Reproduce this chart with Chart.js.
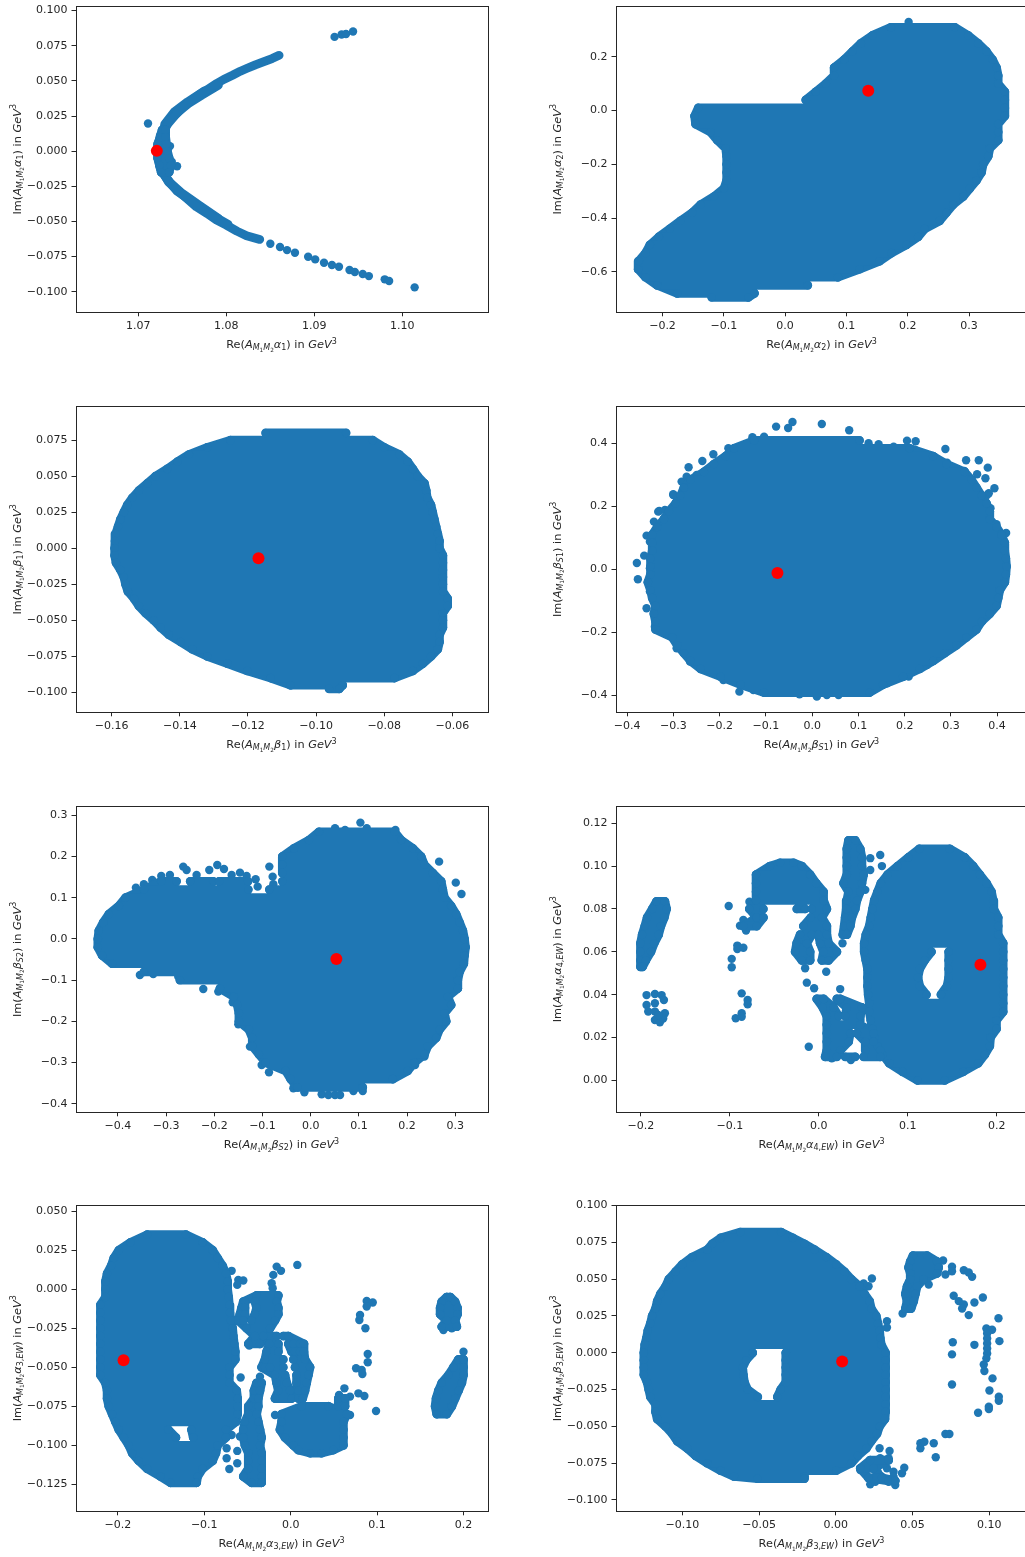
<!DOCTYPE html>
<html>
<head>
<meta charset="utf-8">
<style>
html,body{margin:0;padding:0;background:#fff;width:1025px;height:1557px;overflow:hidden}
#wrap{position:relative;width:1025px;height:1557px;overflow:hidden}
canvas{position:absolute;display:block}
</style>
<script src="https://cdn.jsdelivr.net/npm/chart.js@4/dist/chart.umd.min.js"></script>
</head>
<body>
<div id="wrap"></div>
<script>
// Values. spans: [y, x0, x1, x2, x3 ...] = runs of overlapping points at one Im value
const p1Curve=[[1.0860,.0682],[1.0852,.0659],[1.0842,.0635],[1.0833,.0614],[1.0823,.0588],[1.0816,.0569],[1.0807,.054],[1.0797,.051],[1.0789,.0481],[1.078,.0445],[1.077,.0405],[1.0761,.0363],[1.0751,.0315],[1.0742,.0256],[1.0734,.0197],[1.0728,.0137],[1.0723,.006],[1.0722,0],[1.0723,-.006],[1.0727,-.0135],[1.0734,-.0218],[1.0744,-.0277],[1.0755,-.0336],[1.0766,-.0396],[1.0778,-.0443],[1.0789,-.0491],[1.08,-.0526],[1.0812,-.0569],[1.0823,-.0602],[1.0838,-.0628]];
const p1Outer=[[1.0791,.0469],[1.0772,.0398],[1.0757,.0339],[1.0743,.0268],[1.0732,.0201],[1.0725,.0114],[1.0721,0],[1.0725,-.0123],[1.0736,-.0223],[1.075,-.0301],[1.0769,-.0384],[1.0791,-.0479]];
const p1InnerUp=[[1.0775,.0429],[1.0756,.0351],[1.0741,.028],[1.073,.0192],[1.0728,.0083]];
const p1InnerLow=[[1.0728,-.0159],[1.0732,-.0194],[1.0744,-.0284],[1.0763,-.0367],[1.0782,-.045],[1.0802,-.0521]];
const p1Spans=[[.015,1.0727,1.0731],[.01,1.0725,1.0731],[.005,1.0722,1.0732],[0,1.0722,1.0733],[-.005,1.0722,1.0735],[-.01,1.0724,1.0737],[-.015,1.0726,1.0735]];
const p1Dots=[[1.0711,.0197],[1.0923,.0813],[1.0931,.083],[1.0936,.0834],[1.0944,.0851],[1.0736,.0036],[1.0738,-.0076],[1.0744,-.0107],[1.085,-.0659],[1.0861,-.0682],[1.0869,-.0704],[1.0878,-.0723],[1.0893,-.0751],[1.0901,-.077],[1.0911,-.0794],[1.092,-.081],[1.0928,-.0822],[1.094,-.0846],[1.0946,-.086],[1.0955,-.0874],[1.0962,-.0889],[1.098,-.0912],[1.0985,-.0924],[1.1014,-.0969]];
const p1Red=[1.0721,.0002];
const p1XTicks=[1.07,1.08,1.09,1.10], p1YTicks=[-.1,-.075,-.05,-.025,0,.025,.05,.075,.1];

const p2Spans=[[.31,.1727,.2767],[.28,.1427,.2985],[.25,.1236,.3148],[.22,.11,.3284],[.19,.0964,.3382],[.16,.08,.3448],[.13,.08,.3475],[.10,.0664,.3475],[.07,.05,.3584],[.04,.0338,.3584],[.01,-.1416,.3584],[-.02,-.1476,.3584],[-.05,-.146,.3475],[-.08,-.1215,.3475],[-.11,-.1106,.3475],[-.14,-.097,.3339],[-.17,-.0953,.3312],[-.20,-.0953,.323],[-.23,-.0953,.3203],[-.26,-.0953,.3121],[-.29,-.0997,.3012],[-.32,-.116,.2903],[-.35,-.1378,.274],[-.38,-.1514,.263],[-.41,-.1705,.2522],[-.44,-.188,.2277],[-.47,-.2059,.2168],[-.50,-.2206,.1977],[-.53,-.2277,.1732],[-.56,-.2386,.1541],[-.59,-.2397,.1215],[-.62,-.2277,.0861],[-.65,-.2086,.037],[-.68,-.1759,-.0501],[-.695,-.1198,-.06]];
const p2Dots=[[.2015,.33]];
const p2Red=[.1356,.0744];
const p2XTicks=[-.2,-.1,0,.1,.2,.3], p2YTicks=[-.6,-.4,-.2,0,.2];

const p3Spans=[[.08,-.1148,-.0912],[.075,-.1251,-.0834],[.07,-.1319,-.08],[.065,-.1373,-.0756],[.06,-.1407,-.0731],[.055,-.1437,-.0716],[.05,-.1471,-.0702],[.045,-.1495,-.0682],[.04,-.152,-.0677],[.035,-.1539,-.0674],[.03,-.1554,-.0663],[.025,-.1564,-.0658],[.02,-.1574,-.0653],[.015,-.1581,-.0648],[.01,-.1588,-.0643],[.005,-.159,-.0638],[0,-.1591,-.0638],[-.005,-.1591,-.0628],[-.01,-.1587,-.0628],[-.015,-.1574,-.0628],[-.02,-.1564,-.0628],[-.025,-.1559,-.0628],[-.03,-.1552,-.0628],[-.035,-.1534,-.0614],[-.04,-.152,-.0614],[-.045,-.15,-.0628],[-.05,-.1476,-.0628],[-.055,-.1456,-.0628],[-.06,-.1432,-.0638],[-.065,-.1397,-.0638],[-.07,-.1363,-.0643],[-.075,-.1319,-.0663],[-.08,-.126,-.0687],[-.085,-.1202,-.0716],[-.09,-.1133,-.077],[-.095,-.1075,-.0922],[-.0975,-.0962,-.0932]];
const p3Dots=[];
const p3Red=[-.1169,-.0069];
const p3XTicks=[-.16,-.14,-.12,-.10,-.08,-.06], p3YTicks=[-.1,-.075,-.05,-.025,0,.025,.05,.075];

const p4Spans=[[.41,-.1256,.1025],[.385,-.169,.2108],[.36,-.187,.2614],[.335,-.2123,.2903],[.31,-.2339,.33],[.285,-.2628,.3444],[.26,-.2773,.3552],[.235,-.2845,.3661],[.21,-.2953,.3769],[.185,-.3097,.3841],[.16,-.3206,.3841],[.135,-.335,.3986],[.11,-.3458,.4094],[.085,-.3458,.4166],[.06,-.3458,.4166],[.035,-.3495,.4188],[.01,-.3495,.4202],[-.015,-.3495,.4188],[-.04,-.3552,.4166],[-.065,-.3495,.4058],[-.09,-.3458,.4022],[-.115,-.3386,.3986],[-.14,-.3422,.3841],[-.165,-.3386,.3661],[-.19,-.3386,.3552],[-.215,-.3025,.3336],[-.24,-.2917,.3119],[-.265,-.2773,.2866],[-.29,-.2628,.2614],[-.315,-.2412,.2325],[-.34,-.1978,.1964],[-.365,-.1545,.1531],[-.39,-.104,.1242]];
const p4Dots=[[-.078,.454],[-.0426,.4688],[-.052,.4497],[.0209,.4624],[.0801,.4423],[.2051,.4095],[.2238,.4074],[.2881,.3831],[.3329,.3471],[.3603,.3471],[.3798,.3238],[.3083,.3185],[.3292,.3132],[.3567,.3026],[.2917,.3397],[.3747,.29],[.3942,.2582],[.382,.2423],[.265,.3577],[.2412,.3619],[.3986,.1439],[.4195,.1164],[-.2137,.3661],[-.2375,.345],[-.2672,.3249],[-.1812,.3852],[-.3004,.2392],[-.3307,.1862],[-.3422,.1524],[-.3581,.1079],[-.3791,.0212],[-.3769,-.0307],[-.3632,.0444],[-.3581,-.1228],[-.3401,-.181],[-.1574,-.3873],
[-.3329,.1841],[-.3184,.1894],[-.3004,.237],[-.2823,.2794],[-.2715,.2952],[-.2498,.3005],[-.3473,.1101],[-.3509,.0889],[-.3401,.0466],[-.3509,.0042],[-.3437,-.0328],[-.3509,-.0698],[-.3401,-.1016],[-.3401,-.1439],[-.3365,-.1862],[-.304,-.2074],[-.2931,-.2497],[-.2643,-.2921],
[-.1292,.4201],[-.104,.4222],[.122,.401],[.1437,.3979],[.1762,.3905],[.2231,.3799],[.3783,.237],[.3856,.1947],
[-.1921,-.3503],[-.1271,-.382],[-.104,-.382],[-.0693,-.3873],[-.0513,-.3873],[-.0274,-.3958],[.0101,-.4032],[.0318,-.3979],[.057,-.3979],[.0895,-.3873],[.122,-.382],[.1617,-.3608],[.2087,-.3397],[.2484,-.3026],[.3097,-.2286],[.3495,-.1968],[.3675,-.1651],[.3856,-.1333]];
const p4Red=[-.0751,-.0106];
const p4XTicks=[-.4,-.3,-.2,-.1,0,.1,.2,.3,.4], p4YTicks=[-.4,-.2,0,.2,.4];

const p5Spans=[[.26,.0173,.1737],[.24,-.0035,.1875],[.22,-.0346,.2118],[.20,-.0588,.2291],[.18,-.0588,.236],[.16,-.0588,.2533],[.14,-.31,-.2782,-.25,-.2021,-.19,-.13,-.0588,.2706],[.12,-.3457,-.1294,-.0858,.274],[.10,-.3841,.2775],[.08,-.3979,.2913],[.06,-.4187,.3017],[.04,-.4304,.3087],[.02,-.4394,.3156],[0,-.4415,.319],[-.02,-.4415,.3211],[-.04,-.4325,.319],[-.06,-.4118,.3176],[-.08,-.346,.3087],[-.10,-.2713,.3052],[-.12,-.1882,.3052],[-.14,-.1592,.2844],[-.16,-.1522,.2913],[-.18,-.1488,.2775],[-.20,-.1488,.281],[-.22,-.128,.2671],[-.24,-.1211,.2602],[-.26,-.1211,.2429],[-.28,-.1073,.236],[-.30,-.0934,.2152],[-.32,-.0519,.2014],[-.34,-.0415,.1702],[-.36,-.0277,.108]];
const p5Dots=[[.0505,.2686],[.0713,.2646],[.1031,.2824],[.1163,.2686],[.1758,.2646],[.1474,.2589],[.2664,.1877],[.301,.1367],[.3128,.1092],[-.31,.1529],[-.292,.1553],[-.3287,.1432],[-.346,.1327],[-.3626,.1246],[-.2644,.1756],[-.2574,.1675],[-.2367,.1553],[-.2104,.1675],[-.1938,.1796],[-.1799,.1699],[-.164,.1553],[-.1467,.161],[-.1329,.1529],[-.1142,.1448],[-.0858,.1756],[-.0789,.1513],[-.0775,.1327],[-.11,.127],[-.036,-.3625],[-.0131,-.3722],[.0228,-.377],[.0367,-.3786],[.0505,-.3786],[.0609,-.3786],[.0886,-.3689],[.108,-.3689],[-.0865,-.3236],[-.1017,-.3058],[-.083,-.3042],[-.126,-.2613],[-.1294,-.2168],[-.1502,-.2071],[-.1619,-.1537],[-.1917,-.1278],[-.2228,-.1214],[-.2595,-.0947],[-.2747,-.0914],[-.3059,-.0769],[-.3266,-.085],[-.3543,-.0874],[.236,-.2856],[.2166,-.3058]];
const p5Red=[.0533,-.0485];
const p5XTicks=[-.4,-.3,-.2,-.1,0,.1,.2,.3], p5YTicks=[-.4,-.3,-.2,-.1,0,.1,.2,.3];

const p6Spans=[[.108,.1129,.1471],[.104,.1006,.164],[.10,.0886,.1734],[.096,.0773,.1809],[.092,.0698,.1884],[.088,.066,.194],[.084,.0623,.1959],[.08,.0604,.1966],[.076,.0585,.2015],[.072,.0567,.2015],[.068,.0529,.2015],[.064,.051,.2071],[.06,.051,.1265,.146,.2071],[.056,.0529,.119,.146,.2071],[.052,.0548,.1133,.146,.2071],[.048,.0548,.1114,.146,.2071],[.044,.0548,.1133,.1441,.2071],[.04,.0555,.1208,.1373,.2071],[.036,.0567,.2071],[.032,.0567,.2071],[.028,.0585,.1996],[.024,.0604,.1996],[.02,.0623,.1929],[.016,.066,.1921],[.012,.0717,.1865],[.008,.0792,.179],[.004,.0942,.1621],[0,.1111,.1415],
[.0835,-.1824,-.173],[.08,-.1872,-.1711],[.076,-.1929,-.1737],[.072,-.1955,-.1775],[.068,-.1985,-.1801],[.064,-.2004,-.185],[.06,-.2004,-.1887],[.056,-.2004,-.1944],[.053,-.2004,-.1981],
[.1015,-.0435,-.0285],[.10,-.0548,-.0191],[.096,-.0705,-.0098],[.092,-.0705,-.003],[.088,-.0705,.0053],[.084,-.0705,.0053],[.08,-.078,-.0623,-.0248,-.0154,-.0079,.009],[.076,-.0698,-.0623,-.009,.0034],[.072,-.0848,-.0698,-.0173,.009],[.068,-.021,-.0079,-.0004,.009],[.064,-.0248,-.0135,.0015,.0109],[.06,-.0266,-.0098,.0053,.0203],[.056,-.0191,-.0098,.0034,.0109],
[.112,.0334,.0409],[.108,.0315,.0465],[.104,.0315,.0484],[.10,.0315,.0484],[.096,.0315,.0503],[.092,.0278,.0484],[.088,.0334,.0465],[.084,.0315,.0428],[.08,.0308,.0409],[.076,.0296,.0371],[.072,.0285,.0353],[.068,.027,.0315],
[.038,-.0023,.0053,.0203,.024],[.034,.0045,.0165,.0315,.0484],[.03,.009,.0221,.0296,.0465],[.026,.009,.0465],[.022,.009,.0353,.0428,.0615],[.018,.009,.0334,.0522,.0615],[.014,.009,.024,.0522,.069],[.011,.0071,.0203,.0296,.0409,.0503,.069]];
const p6Dots=[[-.1936,.0398],[-.1842,.0403],[-.1767,.0398],[-.1741,.0375],[-.1936,.0352],[-.1842,.036],[-.1917,.0321],[-.1842,.0321],[-.173,.0313],[-.1842,.0282],[-.1786,.0271],[-.1749,.0289],[-.1805,.0305],[-.1013,.0814],[-.078,.0834],[-.0886,.0722],[-.0848,.0749],[-.0818,.0699],[-.0717,.0733],[-.0916,.0629],[-.0916,.0613],[-.0848,.0619],[-.0979,.0567],[-.0979,.0528],[-.0867,.0406],[-.08,.0375],[-.08,.0355],[-.0867,.0313],[-.0934,.029],[-.0867,.0297],[.0083,.0507],[-.0135,.0456],[-.0053,.043],[-.0154,.0523],[-.0113,.0157],[.0578,.1037],[.069,.1052],[.0709,.1],[.0578,.0982],[.0522,.0889],[.0266,.064],[.024,.0426],[.0146,.0103],[.036,.0095]];
const p6Red=[.1816,.054];
const p6XTicks=[-.2,-.1,0,.1,.2], p6YTicks=[0,.02,.04,.06,.08,.10,.12];

const p7Spans=[[.035,-.166,-.1212],[.03,-.1853,-.1019],[.025,-.1988,-.0903],[.02,-.2046,-.0846],[.015,-.2077,-.0788],[.01,-.2124,-.0749],[.005,-.2143,-.073],[0,-.2143,-.073],[-.005,-.2143,-.0718],[-.01,-.2201,-.071],[-.015,-.2201,-.0703],[-.02,-.2201,-.0691],[-.025,-.2201,-.0672],[-.03,-.2201,-.0664],[-.035,-.2201,-.0653],[-.04,-.2201,-.0641],[-.045,-.2201,-.0641],[-.05,-.2201,-.071],[-.055,-.2201,-.071],[-.06,-.2143,-.071],[-.065,-.2124,-.0625],[-.07,-.2124,-.0614],[-.075,-.2104,-.0614],[-.08,-.2066,-.0614],[-.085,-.2027,-.0633],[-.09,-.1988,-.1417,-.1147,-.0749],[-.095,-.1931,-.1328,-.1127,-.0749],[-.10,-.1873,-.0846],[-.105,-.1834,-.0865],[-.11,-.1757,-.0903],[-.115,-.166,-.1019],[-.12,-.1506,-.1077],[-.124,-.139,-.1089],
[-.045,.1942,.2],[-.05,.1884,.2],[-.055,.1826,.2],[-.06,.1749,.1981],[-.065,.171,.1942],[-.07,.1683,.1903],[-.075,.1672,.1865],[-.08,.1691,.1807],
[-.005,.1807,.1846],[-.008,.1749,.1903],[-.012,.173,.1931],[-.016,.173,.1931],[-.02,.1807,.1903],[-.024,.1749,.1923],
[-.075,.0127,.0436],[-.08,-.0104,.0649],[-.085,-.0104,.061],[-.09,-.0124,.061],[-.095,-.0066,.061],[-.10,.0031,.061],[-.103,.0089,.0494],[-.105,.0224,.0359],[-.07,.0552,.0629],[-.075,.0552,.0629],
[-.03,-.0239,-.0162,-.0085,-.0027],[-.035,-.0247,-.0143,-.0027,.0031,.0108,.0154],[-.04,-.0278,-.0143,.0012,.005,.0108,.0154],[-.045,-.0297,-.0085,.0031,.0166],[-.05,-.0336,-.0297,-.0239,-.0085,.005,.0224],[-.055,-.0181,-.0066,.0069,.0205],[-.06,-.0162,-.0046,.0069,.0185],[-.065,-.0143,-.0008,.0089,.0166],[-.07,-.0181,.0012,.0089,.0139],
[-.004,-.0394,-.0143],[-.008,-.0548,-.0529,-.0413,-.0162],[-.012,-.0568,-.0529,-.0394,-.0143],[-.016,-.0587,-.0529,-.0413,-.0143],[-.02,-.0606,-.0548,-.0452,-.0181],[-.025,-.051,-.0239],[-.03,-.0413,-.0317],[-.035,-.049,-.0355],
[-.06,-.0394,-.0336],[-.065,-.0425,-.0355],[-.07,-.0425,-.0375],[-.075,-.049,-.0375],[-.08,-.049,-.0394],[-.085,-.0529,-.0375],[-.09,-.0548,-.0355],[-.095,-.0548,-.0336],[-.10,-.0529,-.0355],[-.105,-.049,-.0336],[-.11,-.049,-.0336],[-.115,-.049,-.0336],[-.12,-.0548,-.0336],[-.124,-.0452,-.0336]];
const p7Dots=[[.2,-.04],[.1768,-.0261],[.1865,-.025],[.088,-.0075],[.095,-.0085],[.088,-.0111],[.0803,-.0165],[.0795,-.0197],[.0865,-.025],[.0892,-.0415],[.0892,-.0468],[.0757,-.0506],[.0822,-.0517],[.083,-.0543],[.0622,-.0635],[.056,-.0677],[.0687,-.0688],[.0784,-.0667],[.0853,-.0684],[.0988,-.078],[.0077,.0156],[-.0162,.0145],[-.0112,.0118],[-.0201,.0092],[-.022,.0038],[-.0208,.0006],[-.0181,-.0806],[.0687,-.0806],[-.0683,.0118],[-.0606,.006],[-.0548,.0056],[-.0618,.0028],[-.0479,-.0361],[-.0579,-.0566],[-.0355,-.056],[-.0618,-.1036],[-.0618,-.1115],[-.071,-.1152],[-.0741,-.1083],[-.0741,-.1019],[-.0683,-.0934],[-.0587,-.0944]];
const p7Red=[-.1934,-.0455];
const p7XTicks=[-.2,-.1,0,.1,.2], p7YTicks=[-.125,-.1,-.075,-.05,-.025,0,.025,.05];

const p8Spans=[[.082,-.062,-.0357],[.078,-.0751,-.0281],[.074,-.0805,-.0205],[.07,-.0838,-.0139],[.065,-.0936,-.0063],[.06,-.1001,.0002],[.055,-.1045,.0057],[.05,-.1088,.01],[.045,-.111,.0155],[.04,-.1143,.0187],[.035,-.1164,.022],[.03,-.1175,.0231],[.025,-.1197,.0263],[.02,-.1208,.0274],[.015,-.1225,.0285],[.01,-.1234,.0289],[.0055,-.1245,.0296],[0,-.1251,-.0542,-.0326,.0324],[-.005,-.1251,-.0585,-.0326,.0324],[-.01,-.1251,-.0607,-.0326,.0324],[-.015,-.1251,-.0603,-.0326,.0324],[-.02,-.123,-.0596,-.0326,.0324],[-.025,-.1219,-.0575,-.0359,.0324],[-.03,-.1208,-.0509,-.0381,.0324],[-.035,-.1175,.0324],[-.04,-.1175,.0324],[-.045,-.1164,.032],[-.05,-.111,.0285],[-.055,-.1066,.0268],[-.06,-.1034,.0231],[-.065,-.0968,.0198],[-.07,-.0914,.0144],[-.075,-.0838,.01],[-.08,-.0751,.0002],[-.084,-.0664,-.0205],[-.0855,-.0511,-.0205],
[.066,.0503,.0594],[.062,.0485,.0659],[.058,.0474,.067],[.054,.0485,.0659],[.05,.0485,.0572],[.045,.0464,.0529],[.04,.0453,.0518],[.035,.0464,.0507],[.03,.0453,.049],
[-.073,.0224,.0344],[-.0785,.0159,.0246],[-.085,.0213,.03],[-.087,.0344,.0387]];
const p8Dots=[[.0699,.0627],[.0757,.0584],[.0834,.0561],[.0866,.0545],[.0888,.0516],[.0714,.0532],[.0757,.0554],[.0605,.0464],[.0435,.0267],[.0768,.0387],[.0801,.0351],[.0834,.0328],[.0823,.0301],[.0866,.0256],[.0903,.0342],[.0958,.0376],[.106,.0235],[.0762,.0072],[.0757,-.0011],[.0757,-.0215],[.0903,.0054],[.1066,.0079],[.0981,.0165],[.1018,.0156],[.0986,.0131],[.0986,.0097],[.0986,.0063],[.0986,.0029],[.0986,-.0005],[.0981,-.0038],[.0964,-.0079],[.0968,-.0124],[.1021,-.0174],[.1001,-.0256],[.1062,-.0299],[.1062,-.0326],[.0997,-.0367],[.0997,-.0382],[.0927,-.0407],[.0714,-.0552],[.074,-.0552],[.0551,-.0615],[.0577,-.0604],[.0551,-.0649],[.0638,-.0615],[.0651,-.071],[.0235,.0505],[.0213,.0452],[.0181,.0471],[.0333,.0215],[.0333,.0172],[.0285,-.0649],[.035,-.0667],[.0344,-.0717],[.0289,-.0717],[.0224,-.0729],[.0213,-.0762],[.0268,-.0751],[.0333,-.0785],[.0376,-.0808],[.0446,-.0781],[.0431,-.0819],[.0159,-.0796],[.0213,-.0853],[.0224,-.0894],[.0257,-.0876],[.03,-.0842],[.0272,-.0808],[.0344,-.0876],[.0387,-.0898],[.0376,-.0842],[.0192,-.0785],[.0246,-.0785]];
const p8Red=[.0041,-.0059];
const p8XTicks=[-.10,-.05,0,.05,.10], p8YTicks=[-.1,-.075,-.05,-.025,0,.025,.05,.075,.1];

const xRanges=[[1.06286,1.10968],[-.2767,.3954],[-.1706,-.0497],[-.4253,.4657],[-.4879,.3668],[-.2285,.2345],[-.249,.2278],[-.1436,.1249]];
const yRanges=[[-.11465,.10306],[-.7506,.3883],[-.1138,.0985],[-.4529,.5185],[-.4207,.322],[-.0149,.1279],[-.1423,.0538],[-.1077,.1002]];
const xDigits=[2,1,2,1,1,1,1,2], yDigits=[3,1,3,1,1,2,3,3];
// axis-label symbol and its subscript parts: [symbol, [[text, italic], ...]]
const labelSymbols=[['α',[['1',0]]],['α',[['2',0]]],['β',[['1',0]]],['β',[['S',1],['1',0]]],['β',[['S',1],['2',0]]],['α',[['4,',0],['EW',1]]],['α',[['3,',0],['EW',1]]],['β',[['3,',0],['EW',1]]]];

const BLUE='#1f77b4', RED='#ff0000', INK='#262626', FONT='"DejaVu Sans"';
const spanList=[p1Spans,p2Spans,p3Spans,p4Spans,p5Spans,p6Spans,p7Spans,p8Spans];
const dotList=[p1Dots,p2Dots,p3Dots,p4Dots,p5Dots,p6Dots,p7Dots,p8Dots];
const redList=[p1Red,p2Red,p3Red,p4Red,p5Red,p6Red,p7Red,p8Red];
const xTickList=[p1XTicks,p2XTicks,p3XTicks,p4XTicks,p5XTicks,p6XTicks,p7XTicks,p8XTicks];
const yTickList=[p1YTicks,p2YTicks,p3YTicks,p4YTicks,p5YTicks,p6YTicks,p7YTicks,p8YTicks];
const canvasTop=[0,0,400,400,800,800,1199,1199];
const GAP={x:NaN,y:NaN};

function spansToPoints(spans){
  const out=[];
  spans.forEach(r=>{
    for(let i=1;i+1<r.length;i+=2){
      out.push({x:r[i],y:r[0]},{x:r[i+1],y:r[0]},GAP);
    }
  });
  return out;
}
// join the run ends of neighbouring rows, so a blob's rim follows its read-off points
function rimPoints(spans,i){
  const kx=412/(xRanges[i][1]-xRanges[i][0]), ky=306/(yRanges[i][1]-yRanges[i][0]);
  const out=[];
  const link=(xa,ya,xb,yb)=>{ if(Math.abs(xa-xb)*kx<24) out.push({x:xa,y:ya},{x:xb,y:yb},GAP); };
  for(let r=0;r+1<spans.length;r++){
    const a=spans[r],b=spans[r+1];
    if(Math.abs(a[0]-b[0])*ky>12) continue;
    if(a.length===b.length){ for(let k=1;k<a.length;k++) link(a[k],a[0],b[k],b[0]); }
    else { link(a[1],a[0],b[1],b[0]); link(a[a.length-1],a[0],b[b.length-1],b[0]); }
  }
  return out;
}
function pathToPoints(p){return p.map(q=>({x:q[0],y:q[1]}));}
function fmt(v,d){return Math.abs(v).toFixed(d).replace(/^/,v<-1e-9?'\u2212':'');}

function labelRuns(prefix,idx){
  const M=11.3,S=8,T=5.8;
  const [sym,sub]=labelSymbols[idx];
  const runs=[[prefix+'(',M,0,0],['A',M,1,0],['M',S,1,2.2],['1',T,0,3.6],['M',S,1,2.2],['2',T,0,3.6],[sym,M,1,0]];
  sub.forEach(s=>runs.push([s[0],S,s[1],1.9]));
  runs.push([') in ',M,0,0],['GeV',M,1,0],['3',S,0,-4.5]);
  return runs;
}
function drawRuns(ctx,runs,cx,cy,rot){
  ctx.save();
  ctx.translate(cx,cy);
  ctx.rotate(rot);
  ctx.fillStyle=INK;
  ctx.textAlign='left';
  ctx.textBaseline='alphabetic';
  let w=0;
  runs.forEach(r=>{ctx.font=(r[2]?'italic ':'')+r[1]+'px '+FONT;r.w=ctx.measureText(r[0]).width;w+=r.w;});
  let x=-w/2;
  runs.forEach(r=>{ctx.font=(r[2]?'italic ':'')+r[1]+'px '+FONT;ctx.fillText(r[0],x,r[3]);x+=r.w;});
  ctx.restore();
}
const lineStyle={showLine:true,spanGaps:false,borderColor:BLUE,borderWidth:8.8,borderCapStyle:'round',borderJoinStyle:'round',tension:0,pointBorderWidth:0};

const wrap=document.getElementById('wrap');
spanList.forEach((spans,i)=>{
  const cv=document.createElement('canvas');
  const W=500,H=380;
  cv.width=W;cv.height=H;
  cv.style.width=W+'px';cv.style.height=H+'px';
  cv.style.left=(i%2?540:0)+'px';
  cv.style.top=canvasTop[i]+'px';
  wrap.appendChild(cv);
  const datasets=[
    {data:[{x:redList[i][0],y:redList[i][1]}],pointRadius:6,pointBackgroundColor:RED,pointBorderWidth:0,showLine:false},
    Object.assign({data:spansToPoints(spans),pointRadius:4.2,pointBackgroundColor:BLUE},lineStyle),
    Object.assign({data:rimPoints(spans,i),pointRadius:0},lineStyle),
    {data:dotList[i].map(p=>({x:p[0],y:p[1]})),pointRadius:4.2,pointBackgroundColor:BLUE,pointBorderWidth:0,showLine:false}
  ];
  if(i===0) [p1Curve,p1Outer,p1InnerUp,p1InnerLow].forEach(p=>datasets.push(Object.assign({data:pathToPoints(p),pointRadius:0},lineStyle)));
  new Chart(cv,{
    type:'scatter',
    data:{datasets},
    options:{
      responsive:false,animation:false,
      events:[],
      layout:{padding:{top:6.3,right:12.5,left:0,bottom:0}},
      plugins:{legend:{display:false},tooltip:{enabled:false}},
      scales:{
        x:{type:'linear',min:xRanges[i][0],max:xRanges[i][1],
          afterBuildTicks:s=>{s.ticks=xTickList[i].map(v=>({value:v}));},
          afterFit:s=>{s.height=67.7;s.paddingLeft=0;s.paddingRight=0;},
          grid:{display:true,drawOnChartArea:false,drawTicks:true,tickLength:4,tickColor:INK,tickWidth:1},
          border:{display:false},
          ticks:{autoSkip:false,maxRotation:0,minRotation:0,padding:3,color:INK,font:{family:FONT,size:11},callback:v=>fmt(v,xDigits[i])}},
        y:{type:'linear',min:yRanges[i][0],max:yRanges[i][1],
          afterBuildTicks:s=>{s.ticks=yTickList[i].map(v=>({value:v}));},
          afterFit:s=>{s.width=75.5;s.paddingTop=0;s.paddingBottom=0;},
          grid:{display:true,drawOnChartArea:false,drawTicks:true,tickLength:4,tickColor:INK,tickWidth:1},
          border:{display:false},
          ticks:{autoSkip:false,padding:4,color:INK,font:{family:FONT,size:11},callback:v=>fmt(v,yDigits[i])}}
      }
    },
    plugins:[{id:'frameAndLabels',afterDraw(c){
      const a=c.chartArea,ctx=c.ctx;
      ctx.save();
      ctx.strokeStyle=INK;ctx.lineWidth=1;
      ctx.strokeRect(Math.round(a.left)+.5,Math.round(a.top)+.5,Math.round(a.right-a.left),Math.round(a.bottom-a.top));
      ctx.restore();
      drawRuns(ctx,labelRuns('Re',i),(a.left+a.right)/2,348,0);
      drawRuns(ctx,labelRuns('Im',i),20.8,(a.top+a.bottom)/2,-Math.PI/2);
    }}]
  });
});
</script>
</body>
</html>
